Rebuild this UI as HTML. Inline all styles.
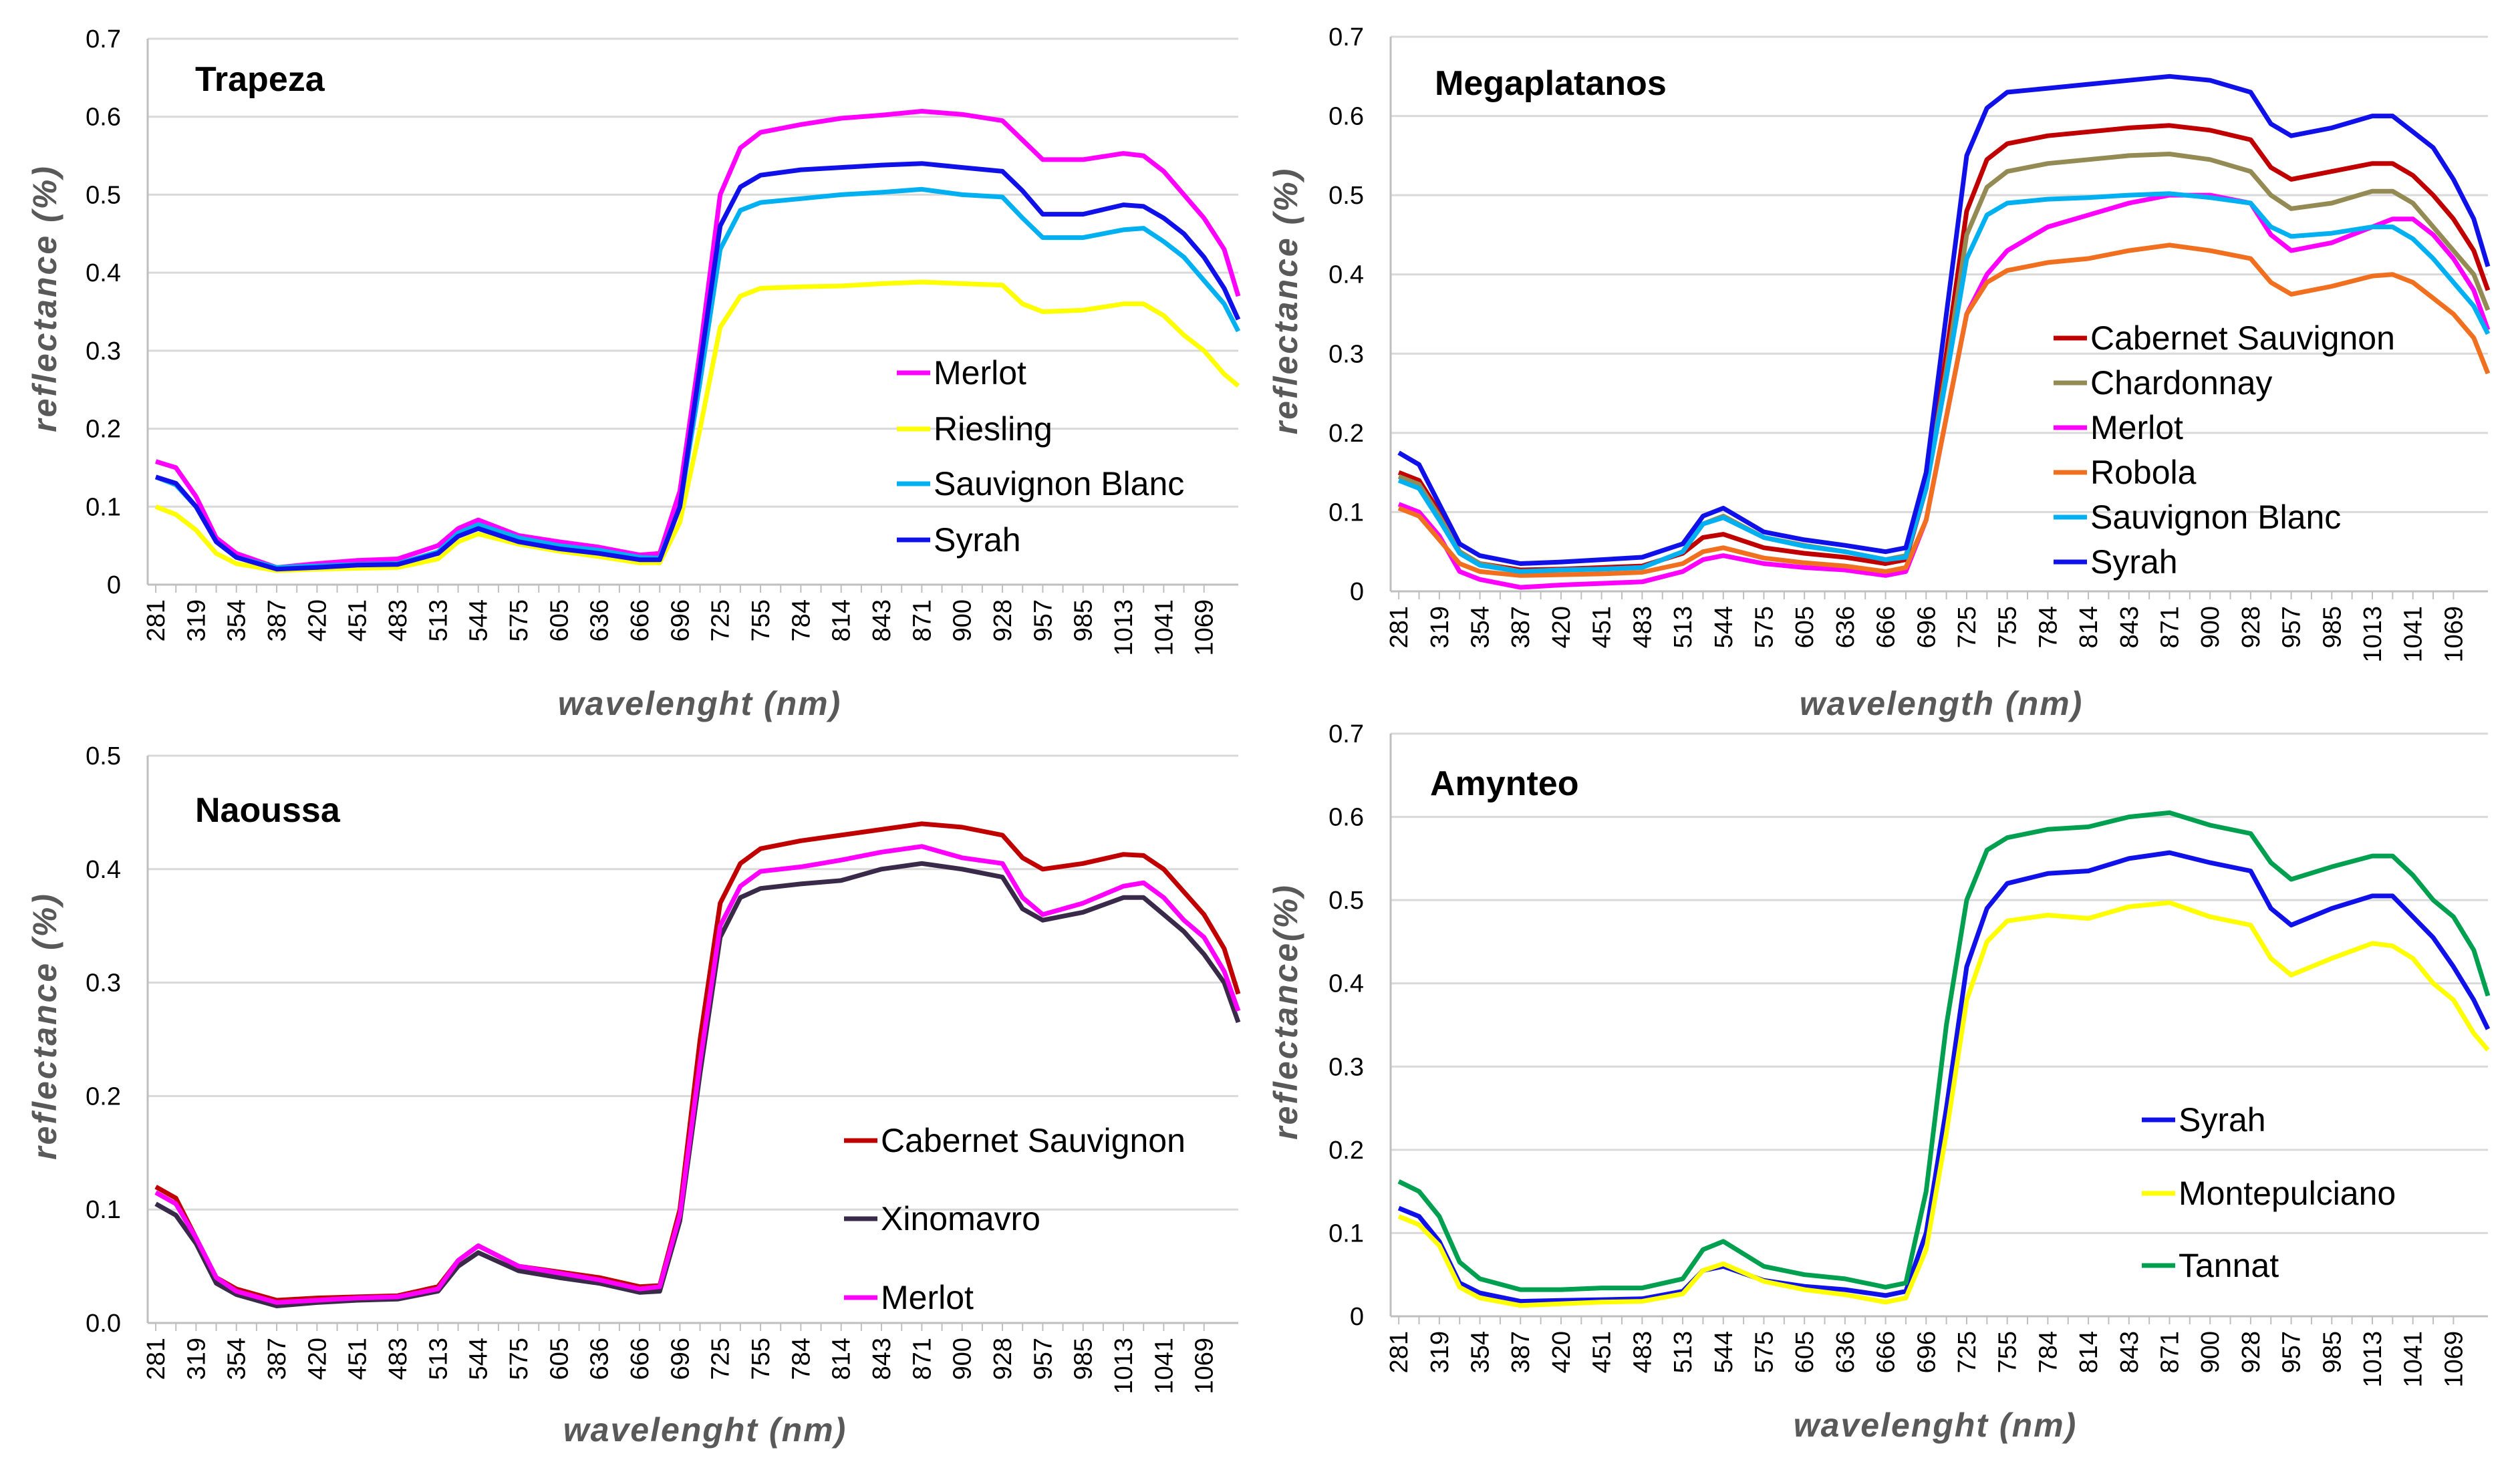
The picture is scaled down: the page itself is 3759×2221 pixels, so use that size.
<!DOCTYPE html>
<html><head><meta charset="utf-8"><style>
html,body{margin:0;padding:0;background:#fff;}
svg{display:block;font-family:"Liberation Sans",sans-serif;}
</style></head><body>
<svg id="fig" width="3759" height="2221" viewBox="0 0 3759 2221" xmlns="http://www.w3.org/2000/svg"></svg>
<script>
const xIdx=[0,0.5,1,1.5,2,3,4,5,6,7,7.5,8,9,10,11,12,12.5,13,13.5,14,14.5,15,16,17,18,19,20,21,21.5,22,23,24,24.5,25,25.5,26,26.5,26.85];
const tickLabels=["281","319","354","387","420","451","483","513","544","575","605","636","666","696","725","755","784","814","843","871","900","928","957","985","1013","1041","1069"];

const trMerlot=[0.158,0.15,0.113,0.06,0.04,0.022,0.027,0.031,0.033,0.05,0.072,0.083,0.063,0.055,0.048,0.038,0.04,0.12,0.3,0.5,0.56,0.58,0.59,0.598,0.602,0.607,0.603,0.595,0.57,0.545,0.545,0.553,0.55,0.53,0.5,0.47,0.43,0.37];
const trRiesling=[0.10,0.09,0.07,0.04,0.027,0.018,0.02,0.021,0.022,0.033,0.055,0.065,0.052,0.043,0.036,0.028,0.028,0.08,0.2,0.33,0.37,0.38,0.382,0.383,0.386,0.388,0.386,0.384,0.36,0.35,0.352,0.36,0.36,0.345,0.32,0.3,0.27,0.255];
const trSauv=[0.138,0.128,0.1,0.055,0.035,0.022,0.024,0.026,0.027,0.042,0.066,0.077,0.06,0.05,0.044,0.035,0.034,0.1,0.26,0.43,0.48,0.49,0.495,0.5,0.503,0.507,0.5,0.497,0.47,0.445,0.445,0.455,0.457,0.44,0.42,0.39,0.36,0.325];
const trSyrah=[0.138,0.13,0.1,0.055,0.035,0.02,0.022,0.025,0.026,0.04,0.062,0.072,0.055,0.046,0.04,0.032,0.032,0.1,0.28,0.46,0.51,0.525,0.532,0.535,0.538,0.54,0.535,0.53,0.505,0.475,0.475,0.487,0.485,0.47,0.45,0.42,0.38,0.34];

const mgCab=[0.15,0.14,0.1,0.05,0.035,0.027,0.028,0.03,0.032,0.048,0.068,0.072,0.055,0.048,0.043,0.035,0.04,0.13,0.3,0.48,0.545,0.565,0.575,0.58,0.585,0.588,0.582,0.57,0.535,0.52,0.53,0.54,0.54,0.525,0.5,0.47,0.43,0.38];
const mgChard=[0.145,0.135,0.095,0.05,0.035,0.025,0.027,0.028,0.03,0.05,0.085,0.095,0.068,0.058,0.05,0.04,0.045,0.13,0.28,0.45,0.51,0.53,0.54,0.545,0.55,0.552,0.545,0.53,0.5,0.483,0.49,0.505,0.505,0.49,0.46,0.43,0.4,0.355];
const mgMerlot=[0.11,0.1,0.07,0.025,0.015,0.005,0.008,0.01,0.012,0.025,0.04,0.045,0.035,0.03,0.027,0.02,0.025,0.09,0.22,0.35,0.4,0.43,0.46,0.475,0.49,0.5,0.5,0.49,0.45,0.43,0.44,0.46,0.47,0.47,0.45,0.42,0.38,0.33];
const mgRobola=[0.105,0.095,0.065,0.035,0.025,0.02,0.021,0.022,0.024,0.035,0.05,0.055,0.042,0.036,0.032,0.025,0.03,0.09,0.22,0.35,0.39,0.405,0.415,0.42,0.43,0.437,0.43,0.42,0.39,0.375,0.385,0.398,0.4,0.39,0.37,0.35,0.32,0.275];
const mgSauv=[0.14,0.13,0.09,0.048,0.033,0.025,0.027,0.028,0.03,0.05,0.085,0.093,0.068,0.057,0.05,0.04,0.043,0.13,0.27,0.42,0.475,0.49,0.495,0.497,0.5,0.502,0.497,0.49,0.46,0.448,0.452,0.46,0.46,0.445,0.42,0.39,0.36,0.325];
const mgSyrah=[0.175,0.16,0.11,0.06,0.045,0.035,0.037,0.04,0.043,0.06,0.095,0.105,0.075,0.065,0.058,0.05,0.055,0.15,0.35,0.55,0.61,0.63,0.635,0.64,0.645,0.65,0.645,0.63,0.59,0.575,0.585,0.6,0.6,0.58,0.56,0.52,0.47,0.41];

const naCab=[0.12,0.11,0.075,0.04,0.03,0.02,0.022,0.023,0.024,0.032,0.055,0.068,0.05,0.045,0.04,0.032,0.033,0.1,0.25,0.37,0.405,0.418,0.425,0.43,0.435,0.44,0.437,0.43,0.41,0.4,0.405,0.413,0.412,0.4,0.38,0.36,0.33,0.29];
const naXino=[0.105,0.095,0.07,0.035,0.025,0.015,0.018,0.02,0.021,0.028,0.05,0.062,0.046,0.04,0.035,0.027,0.028,0.09,0.22,0.34,0.375,0.383,0.387,0.39,0.4,0.405,0.4,0.393,0.365,0.355,0.362,0.375,0.375,0.36,0.345,0.325,0.3,0.265];
const naMerlot=[0.115,0.105,0.075,0.04,0.028,0.018,0.02,0.022,0.023,0.03,0.055,0.068,0.05,0.044,0.038,0.03,0.032,0.095,0.23,0.35,0.385,0.398,0.402,0.408,0.415,0.42,0.41,0.405,0.375,0.36,0.37,0.385,0.388,0.375,0.355,0.34,0.31,0.275];

const amSyrah=[0.13,0.12,0.09,0.04,0.028,0.018,0.019,0.02,0.021,0.03,0.055,0.06,0.043,0.036,0.032,0.025,0.03,0.1,0.25,0.42,0.49,0.52,0.532,0.535,0.55,0.557,0.545,0.535,0.49,0.47,0.49,0.505,0.505,0.48,0.455,0.42,0.38,0.345];
const amMonte=[0.12,0.11,0.085,0.035,0.022,0.013,0.015,0.017,0.018,0.027,0.055,0.063,0.042,0.032,0.026,0.017,0.022,0.08,0.22,0.38,0.45,0.475,0.482,0.478,0.492,0.497,0.48,0.47,0.43,0.41,0.43,0.448,0.445,0.43,0.4,0.38,0.34,0.32];
const amTannat=[0.162,0.15,0.12,0.065,0.045,0.032,0.032,0.034,0.034,0.045,0.08,0.09,0.06,0.05,0.045,0.035,0.04,0.15,0.35,0.5,0.56,0.575,0.585,0.588,0.6,0.605,0.59,0.58,0.545,0.525,0.54,0.553,0.553,0.53,0.5,0.48,0.44,0.385];

const NS="http://www.w3.org/2000/svg";
const svg=document.getElementById('fig');
function mk(tag,attrs,parent,text){const e=document.createElementNS(NS,tag);for(const k in attrs)e.setAttribute(k,attrs[k]);if(text!==undefined)e.textContent=text;(parent||svg).appendChild(e);return e;}

const panels=[
 {key:'trapeza',title:'Trapeza',L:221,R:1853,T:58,B:875,ymax:0.7,yLabels:["0","0.1","0.2","0.3","0.4","0.5","0.6","0.7"],titleX:292,titleY:136,ytitle:'reflectance (%)',ytx:68,xtitle:'wavelenght (nm)',xtx:1047,xty:1070,
  series:[['Merlot','#ff00ff',trMerlot],['Riesling','#ffff00',trRiesling],['Sauvignon Blanc','#00b0f0',trSauv],['Syrah','#1010e8',trSyrah]],
  legX:1342,legY:[558,642,724,808]},
 {key:'megaplatanos',title:'Megaplatanos',L:2081,R:3723,T:55,B:885,ymax:0.7,yLabels:["0","0.1","0.2","0.3","0.4","0.5","0.6","0.7"],titleX:2147,titleY:142,ytitle:'reflectance (%)',ytx:1925,xtitle:'wavelength (nm)',xtx:2905,xty:1070,
  series:[['Cabernet Sauvignon','#c00000',mgCab],['Chardonnay','#948a54',mgChard],['Merlot','#ff00ff',mgMerlot],['Robola','#f07020',mgRobola],['Sauvignon Blanc','#00b0f0',mgSauv],['Syrah','#1010e8',mgSyrah]],
  legX:3073,legY:[506,573,640,707,774,841]},
 {key:'naoussa',title:'Naoussa',L:221,R:1853,T:1131,B:1980,ymax:0.5,yLabels:["0.0","0.1","0.2","0.3","0.4","0.5"],titleX:292,titleY:1230,ytitle:'reflectance (%)',ytx:68,xtitle:'wavelenght (nm)',xtx:1055,xty:2157,
  series:[['Cabernet Sauvignon','#c00000',naCab],['Xinomavro','#3a2a4a',naXino],['Merlot','#ff00ff',naMerlot]],
  legX:1263,legY:[1707,1824,1942]},
 {key:'amynteo',title:'Amynteo',L:2081,R:3723,T:1098,B:1970,ymax:0.7,yLabels:["0","0.1","0.2","0.3","0.4","0.5","0.6","0.7"],titleX:2140,titleY:1190,ytitle:'reflectance(%)',ytx:1925,xtitle:'wavelenght (nm)',xtx:2896,xty:2150,
  series:[['Syrah','#1010e8',amSyrah],['Montepulciano','#ffff00',amMonte],['Tannat','#00a050',amTannat]],
  legX:3205,legY:[1676,1786,1894]}
];

panels.forEach(p=>{
 const g=mk('g',{});
 
 
 const x0=-0.2,x1=26.85;
 const xs=v=>p.L+(v-x0)/(x1-x0)*(p.R-p.L);
 const ys=v=>p.B-v/p.ymax*(p.B-p.T);
 // gridlines + y labels
 p.yLabels.forEach((lab,i)=>{
  const v=i*0.1, y=ys(v);
  if(i>0){const gl=mk('line',{x1:p.L,x2:p.R,y1:y,y2:y,stroke:'#d9d9d9','stroke-width':3},g);
   }
  const t=mk('text',{x:p.L-40,y:y+13,'font-size':38,'text-anchor':'end',fill:'#000'},g,lab);
  
 });
 // axes
 const ya=mk('line',{x1:p.L,x2:p.L,y1:p.T,y2:p.B,stroke:'#bfbfbf','stroke-width':3},g);
 
 const xa=mk('line',{x1:p.L,x2:p.R,y1:p.B,y2:p.B,stroke:'#bfbfbf','stroke-width':3},g);
 
 for(let k=0;k<=26*2;k++){const xx=xs(k/2);mk('line',{x1:xx,x2:xx,y1:p.B,y2:p.B+12,stroke:'#bfbfbf','stroke-width':2},g);}
 tickLabels.forEach((lab,i)=>{
  const xx=xs(i), yy=p.B+22;
  const t=mk('text',{x:0,y:0,'font-size':38,'text-anchor':'end',transform:`translate(${xx+13},${yy}) rotate(-90)`,fill:'#000'},g,lab);
  
 });
 // series
 p.series.forEach(s=>{
  const d=s[2].map((v,i)=>(i?'L':'M')+xs(xIdx[i]).toFixed(1)+','+ys(v).toFixed(1)).join(' ');
  const path=mk('path',{d:d,fill:'none',stroke:s[1],'stroke-width':7,'stroke-linejoin':'round'},g);
  
  
 });
 // legend
 p.series.forEach((s,i)=>{
  const y=p.legY[i];
  const ln=mk('line',{x1:p.legX,x2:p.legX+50,y1:y,y2:y,stroke:s[1],'stroke-width':7},g);
  
  const t=mk('text',{x:p.legX+55,y:y+17,'font-size':50,fill:'#000'},g,s[0]);
  
 });
 const tt=mk('text',{x:p.titleX,y:p.titleY,'font-size':52,'font-weight':'bold',fill:'#000'},g,p.title);
 
 const cy=(p.T+p.B)/2-20;
 const yt=mk('text',{x:0,y:0,'font-size':50,'font-weight':'bold','font-style':'italic','text-anchor':'middle',fill:'#595959','letter-spacing':3,transform:`translate(${p.ytx+16},${cy}) rotate(-90)`},g,p.ytitle);
 
 const xt=mk('text',{x:p.xtx,y:p.xty,'font-size':50,'font-weight':'bold','font-style':'italic','text-anchor':'middle',fill:'#595959','letter-spacing':2},g,p.xtitle);
 
});
</script>
</body></html>
